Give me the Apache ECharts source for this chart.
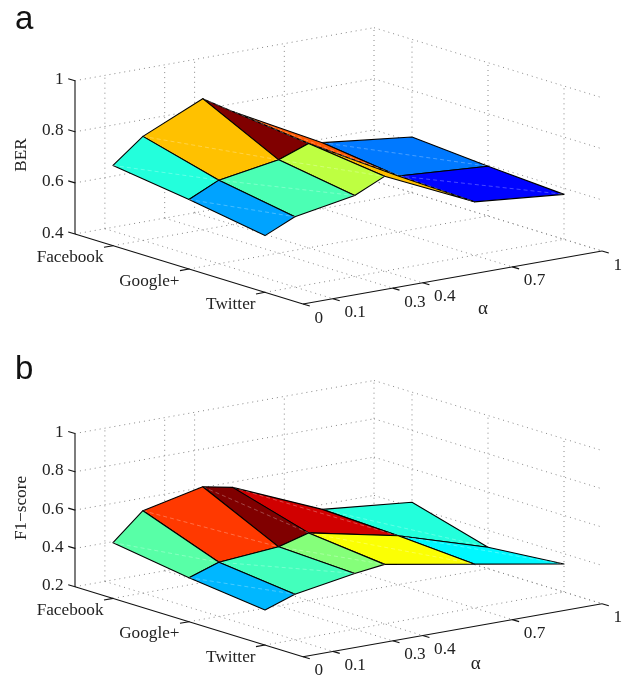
<!DOCTYPE html>
<html><head><meta charset="utf-8">
<style>html,body{margin:0;padding:0;background:#fff}#c{width:629px;height:678px}</style>
<script src="https://cdn.jsdelivr.net/npm/echarts@6/dist/echarts.min.js"></script>
</head><body><div id="c"></div>
<script>
// ---- data ----
const alphaValues = [0, 0.1, 0.3, 0.4, 0.7, 1];
const networks = ['Facebook', 'Google+', 'Twitter'];
const berFacebook = [0.714, 0.807, 0.913, 0.842, 0.658, 0.618];
const berGoogle   = [0.672, 0.727, 0.765, 0.808, 0.619, 0.595];
const berTwitter  = [0.622, 0.675, 0.7165, 0.771, 0.609, 0.576];
const f1Facebook  = [0.491, 0.63, 0.7, 0.669, 0.471, 0.425];
const f1Google    = [0.43, 0.483, 0.508, 0.553, 0.455, 0.312];
const f1Twitter   = [0.383, 0.438, 0.491, 0.5105, 0.429, 0.346];
const berTicks = [0.4, 0.6, 0.8, 1];
const f1Ticks  = [0.2, 0.4, 0.6, 0.8, 1];
const alphaTickLabels = ['0', '0.1', '0.3', '0.4', '0.7', '1'];
const networkPositions = [1/6, 1/2, 5/6];

// ---- oblique 3D view, expressed in axis units ----
const ALPHA_PX = 299, T_PX = 228, ALPHA_RISE = 53, T_DROP = 70, LEFT = 75;
const PANEL_H = 339;
const SERIF = '"Liberation Serif","Times New Roman",serif';
const panels = [
  {name:'BER', rows:[berFacebook, berGoogle, berTwitter], ticks:berTicks, px:255.5, floorY:234, top:0,
   nameY:155, alphaLabel:[483, 308.7]},
  {name:'F1\u2212score', rows:[f1Facebook, f1Google, f1Twitter], ticks:f1Ticks, px:191.5, floorY:247.7, top:339,
   nameY:169, alphaLabel:[475.7, 325]}
];

function jet(f){
  const c = v => Math.round(255*Math.max(0, Math.min(1, v)));
  return `rgb(${c(Math.min(4*f-1.5, -4*f+4.5))},${c(Math.min(4*f-0.5, -4*f+3.5))},${c(Math.min(4*f+0.5, -4*f+2.5))})`;
}
function project(api, p, a, t, z){
  return api.coord([a + t*T_PX/ALPHA_PX, z + (ALPHA_RISE*a - T_DROP*t)/p.px]);
}
function dottedSegments(p){
  const zMin = p.ticks[0], zMax = p.ticks[p.ticks.length-1], s = [];
  p.ticks.forEach(z => { s.push([0,0,z,1,0,z]); s.push([1,0,z,1,1,z]); });
  alphaValues.forEach(a => {
    if (a > 0) s.push([a,0,zMin,a,0,zMax]);
    if (a > 0) s.push([a,0,zMin,a,1,zMin]);
  });
  networkPositions.forEach(t => {
    s.push([1,t,zMin,1,t,zMax]);
    s.push([0,t,zMin,1,t,zMin]);
  });
  return s;
}
function faces(p){
  const out = [];
  for (let i = alphaValues.length-2; i >= 0; i--)
    for (let j = 0; j < p.rows.length-1; j++) out.push([i,j]);
  return out;
}

const grids = [], xAxes = [], yAxes = [], series = [], titles = [];
panels.forEach((p, k) => {
  const zMin = p.ticks[0], zMax = p.ticks[p.ticks.length-1];
  grids.push({left:0, top:p.top, width:629, height:PANEL_H});
  xAxes.push({type:'value', gridIndex:k, show:false, min:-LEFT/ALPHA_PX, max:(629-LEFT)/ALPHA_PX});
  yAxes.push({type:'value', gridIndex:k, show:false, scale:true,
    min:zMin-(PANEL_H-p.floorY)/p.px, max:zMin+p.floorY/p.px});
  const base = {type:'custom', coordinateSystem:'cartesian2d', xAxisIndex:k, yAxisIndex:k, silent:true, animation:false, clip:false};

  // dotted box grid
  const segs = dottedSegments(p);
  series.push(Object.assign({}, base, {z:1, data:segs.map((_,i)=>[i]), renderItem(params, api){
    const s = segs[params.dataIndex];
    const A = project(api,p,s[0],s[1],s[2]), B = project(api,p,s[3],s[4],s[5]);
    return {type:'line', shape:{x1:A[0],y1:A[1],x2:B[0],y2:B[1]},
      style:{stroke:'#888', lineWidth:1, lineDash:[1,4], fill:null}};
  }}));

  // surface
  const all = p.rows.flat(), lo = Math.min(...all), hi = Math.max(...all);
  const fl = faces(p);
  series.push(Object.assign({}, base, {z:2, data:fl.map((_,i)=>[i]), renderItem(params, api){
    const [i,j] = fl[params.dataIndex];
    const a0 = alphaValues[i], a1 = alphaValues[i+1];
    const t0 = networkPositions[j], t1 = networkPositions[j+1];
    const r0 = p.rows[j], r1 = p.rows[j+1];
    const P00 = project(api,p,a0,t0,r0[i]), P10 = project(api,p,a1,t0,r0[i+1]);
    const P11 = project(api,p,a1,t1,r1[i+1]), P01 = project(api,p,a0,t1,r1[i]);
    return {type:'group', children:[
      {type:'polygon', shape:{points:[P00,P10,P11,P01]},
        style:{fill:jet((r0[i]-lo)/(hi-lo)), stroke:'#000', lineWidth:1.1, lineJoin:'round'}},
      {type:'line', shape:{x1:P00[0],y1:P00[1],x2:P11[0],y2:P11[1]},
        style:{stroke:'rgba(255,255,255,0.35)', lineWidth:0.8, lineDash:[4,3], fill:null}}
    ]};
  }}));

  // solid axes, ticks and labels
  series.push(Object.assign({}, base, {z:3, data:[[0]], renderItem(params, api){
    const kids = [];
    const line = (A,B) => kids.push({type:'line', shape:{x1:A[0],y1:A[1],x2:B[0],y2:B[1]},
      style:{stroke:'#111', lineWidth:1.1, fill:null}});
    const text = (str,x,y,align) => kids.push({type:'text', x:x, y:y,
      style:{text:str, font:'17.2px '+SERIF, fill:'#222', align:align, verticalAlign:'middle'}});
    line(project(api,p,0,0,zMin), project(api,p,0,0,zMax));
    line(project(api,p,0,0,zMin), project(api,p,0,1,zMin));
    line(project(api,p,0,1,zMin), project(api,p,1,1,zMin));
    p.ticks.forEach(z => {
      const A = project(api,p,0,0,z);
      line(A, [A[0]-6.8, A[1]-2]);
      text(String(z), A[0]-11.5, A[1]-1, 'right');
    });
    networkPositions.forEach((t,i) => {
      const A = project(api,p,0,t,zMin);
      line(A, [A[0]-9, A[1]+1.6]);
      text(networks[i], A[0]-9.5, A[1]+12.2, 'right');
    });
    alphaValues.forEach((a,i) => {
      const A = project(api,p,a,1,zMin);
      line(A, [A[0]+6.8, A[1]+2]);
      text(alphaTickLabels[i], A[0]+11.5, A[1]+14, 'left');
    });
    const O = api.coord([-LEFT/ALPHA_PX, zMin+p.floorY/p.px]); // panel's top-left corner
    kids.push({type:'text', x:O[0]+21.7, y:O[1]+p.nameY, rotation:Math.PI/2,
      style:{text:p.name, font:'17.2px '+SERIF, fill:'#222', align:'center', verticalAlign:'middle'}});
    kids.push({type:'text', x:O[0]+p.alphaLabel[0], y:O[1]+p.alphaLabel[1],
      style:{text:'\u03b1', font:'19px '+SERIF, fill:'#222', align:'center', verticalAlign:'middle'}});
    return {type:'group', children:kids};
  }}));
});

titles.push({text:'a', left:10, top:-2, textStyle:{fontFamily:'"Liberation Sans",Arial,sans-serif', fontSize:33, fontWeight:'normal', color:'#111'}});
titles.push({text:'b', left:10, top:348, textStyle:{fontFamily:'"Liberation Sans",Arial,sans-serif', fontSize:33, fontWeight:'normal', color:'#111'}});

const chart = echarts.init(document.getElementById('c'), null, {renderer:'canvas'});
chart.setOption({animation:false, backgroundColor:'#fff', title:titles, grid:grids, xAxis:xAxes, yAxis:yAxes, series:series});
</script></body></html>
